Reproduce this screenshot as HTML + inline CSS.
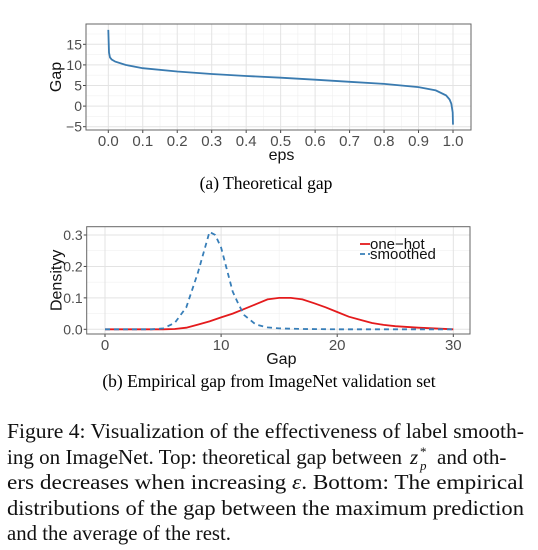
<!DOCTYPE html>
<html><head><meta charset="utf-8"><style>
body{margin:0;background:#fff;width:538px;height:550px;overflow:hidden}
svg{display:block}
</style></head><body>
<svg id="s" width="538" height="550" xmlns="http://www.w3.org/2000/svg" font-family="Liberation Sans, sans-serif">
<rect width="538" height="550" fill="#fff"/>
<g id="top"></g>
<g id="bot"></g>
<text x="266" y="189" font-family="Liberation Serif, serif" font-size="17.5" text-anchor="middle">(a) Theoretical gap</text>
<text x="269" y="387" font-family="Liberation Serif, serif" font-size="17.5" text-anchor="middle">(b) Empirical gap from ImageNet validation set</text>
<g font-family="Liberation Serif, serif" font-size="21" fill="#111">
<text x="7" y="438" textLength="517" lengthAdjust="spacingAndGlyphs">Figure 4: Visualization of the effectiveness of label smooth-</text>
<text x="7" y="464" textLength="395" lengthAdjust="spacingAndGlyphs">ing on ImageNet. Top: theoretical gap between</text>
<text x="410" y="464" font-style="italic">z</text><text x="420" y="456" font-size="13">*</text><text x="420" y="470" font-size="13" font-style="italic">p</text>
<text x="437" y="464" font-family="Liberation Serif, serif">and oth-</text>
<text x="7" y="489" textLength="517" lengthAdjust="spacingAndGlyphs">ers decreases when increasing <tspan font-style="italic">ε</tspan>.  Bottom: The empirical</text>
<text x="7" y="515" textLength="517" lengthAdjust="spacingAndGlyphs">distributions of the gap between the maximum prediction</text>
<text x="7" y="540" textLength="224" lengthAdjust="spacingAndGlyphs">and the average of the rest.</text>
</g>
</svg>
<script>
// top chart data
const epsVals=[0,0.002,0.005,0.01,0.02,0.05,0.1,0.2,0.3,0.4,0.5,0.6,0.7,0.8,0.9,0.95,0.98,0.99,0.995,0.999,1.0];
const gapVals=[18.5,13,11.8,11.3,10.8,10,9.2,8.4,7.8,7.3,6.9,6.4,5.9,5.4,4.6,3.8,2.6,1.6,0.6,-1.5,-4.5];
const topXTicks=[0,0.1,0.2,0.3,0.4,0.5,0.6,0.7,0.8,0.9,1.0];
const topYTicks=[-5,0,5,10,15];
// bottom chart data
const gapX=[0,5,6,7,8,9,10,11,12,13,14,15,16,17,18,19,20,21,22,23,24,25,27,30];
const oneHot=[0,0,0.001,0.005,0.015,0.025,0.038,0.05,0.065,0.08,0.095,0.1,0.1,0.095,0.083,0.07,0.055,0.04,0.03,0.02,0.014,0.01,0.005,0];
const smX=[0,4,5,6,7,8,9,9.5,10,10.5,11,11.5,12,13,14,15,17,20,30];
const smoothed=[0,0,0.003,0.02,0.07,0.18,0.31,0.3,0.26,0.19,0.12,0.08,0.045,0.015,0.006,0.003,0.001,0,0];
const botXTicks=[0,10,20,30];
const botYTicks=[0,0.1,0.2,0.3];
const NS="http://www.w3.org/2000/svg";
function mk(p,t,a){const e=document.createElementNS(NS,t);for(const k in a)e.setAttribute(k,a[k]);p.appendChild(e);return e;}
function chart(g,box,xs,ys,xt,yt,xfmt,yfmt,xlabel,ylabel,minor){
  const [L,T,R,B]=box;
  for(const m of minor.x){const x=xs(m);const e=mk(g,'line',{x1:x,x2:x,y1:T,y2:B,stroke:'#f0f0f0','stroke-width':0.6});}
  for(const m of minor.y){const y=ys(m);const e=mk(g,'line',{x1:L,x2:R,y1:y,y2:y,stroke:'#f0f0f0','stroke-width':0.6});}
  for(const v of xt){const x=xs(v);const e=mk(g,'line',{x1:x,x2:x,y1:T,y2:B,stroke:'#e3e3e3','stroke-width':1});
    mk(g,'line',{x1:x,x2:x,y1:B,y2:B+3,stroke:'#444'});
    const t=mk(g,'text',{x:x,y:B+16,'font-size':15,'text-anchor':'middle',fill:'#4d4d4d'});t.textContent=xfmt(v);}
  for(const v of yt){const y=ys(v);const e=mk(g,'line',{x1:L,x2:R,y1:y,y2:y,stroke:'#e3e3e3','stroke-width':1});
    mk(g,'line',{x1:L-3,x2:L,y1:y,y2:y,stroke:'#444'});
    const t=mk(g,'text',{x:L-4,y:y+5,'font-size':14,'text-anchor':'end',fill:'#4d4d4d'});t.textContent=yfmt(v);}
  const r=mk(g,'rect',{x:L,y:T,width:R-L,height:B-T,fill:'none',stroke:'#666','stroke-width':1});
  const xl=mk(g,'text',{x:(L+R)/2+3,y:B+30,'font-size':16,'text-anchor':'middle',fill:'#111'});xl.textContent=xlabel;
  const cy=(T+B)/2;const yl=mk(g,'text',{x:0,y:0,'font-size':16,'text-anchor':'middle',fill:'#111',transform:`translate(${L-25},${cy}) rotate(-90)`});yl.textContent=ylabel;
}
function path(g,xs,ys,X,Y,attrs,name){let d='';X.forEach((x,i)=>{d+=(i?'L':'M')+xs(x).toFixed(1)+','+ys(Y[i]).toFixed(1);});const p=mk(g,'path',Object.assign({d:d,fill:'none'},attrs));return p;}
// top
const tg=document.getElementById('top');
const txs=v=>108.3+v*(453-108.3), tys=v=>106.1-v*4.12;
chart(tg,[86,24,471,130],txs,tys,topXTicks,topYTicks,v=>v.toFixed(1),v=>v===-5?'−5':String(v),'eps','Gap',
 {x:[0.05,0.15,0.25,0.35,0.45,0.55,0.65,0.75,0.85,0.95],y:[-2.5,2.5,7.5,12.5,17.5]});
path(tg,txs,tys,epsVals,gapVals,{stroke:'#3a7bb0','stroke-width':1.8},'gap-curve');
// bottom
const bg=document.getElementById('bot');
const bxs=v=>105+v*(453.3-105)/30, bys=v=>329.3-v*314.3;
chart(bg,[86.7,226.7,470,334],bxs,bys,botXTicks,botYTicks,v=>String(v),v=>v.toFixed(1),'Gap','Densityy',
 {x:[5,15,25],y:[0.05,0.15,0.25]});
path(bg,bxs,bys,gapX,oneHot,{stroke:'#e41a1c','stroke-width':1.8},'one-hot-curve');
path(bg,bxs,bys,smX,smoothed,{stroke:'#377eb8','stroke-width':1.8,'stroke-dasharray':'5,4'},'smoothed-curve');
const lg=mk(bg,'g',{});
mk(lg,'line',{x1:360,x2:370,y1:244,y2:244,stroke:'#e41a1c','stroke-width':1.8});
let t1=mk(lg,'text',{x:370,y:249,'font-size':15,fill:'#111'});t1.textContent='one−hot';
mk(lg,'line',{x1:360,x2:370,y1:254,y2:254,stroke:'#377eb8','stroke-width':1.8,'stroke-dasharray':'5,3'});
let t2=mk(lg,'text',{x:370,y:259,'font-size':15,fill:'#111'});t2.textContent='smoothed';
</script>
</body></html>
